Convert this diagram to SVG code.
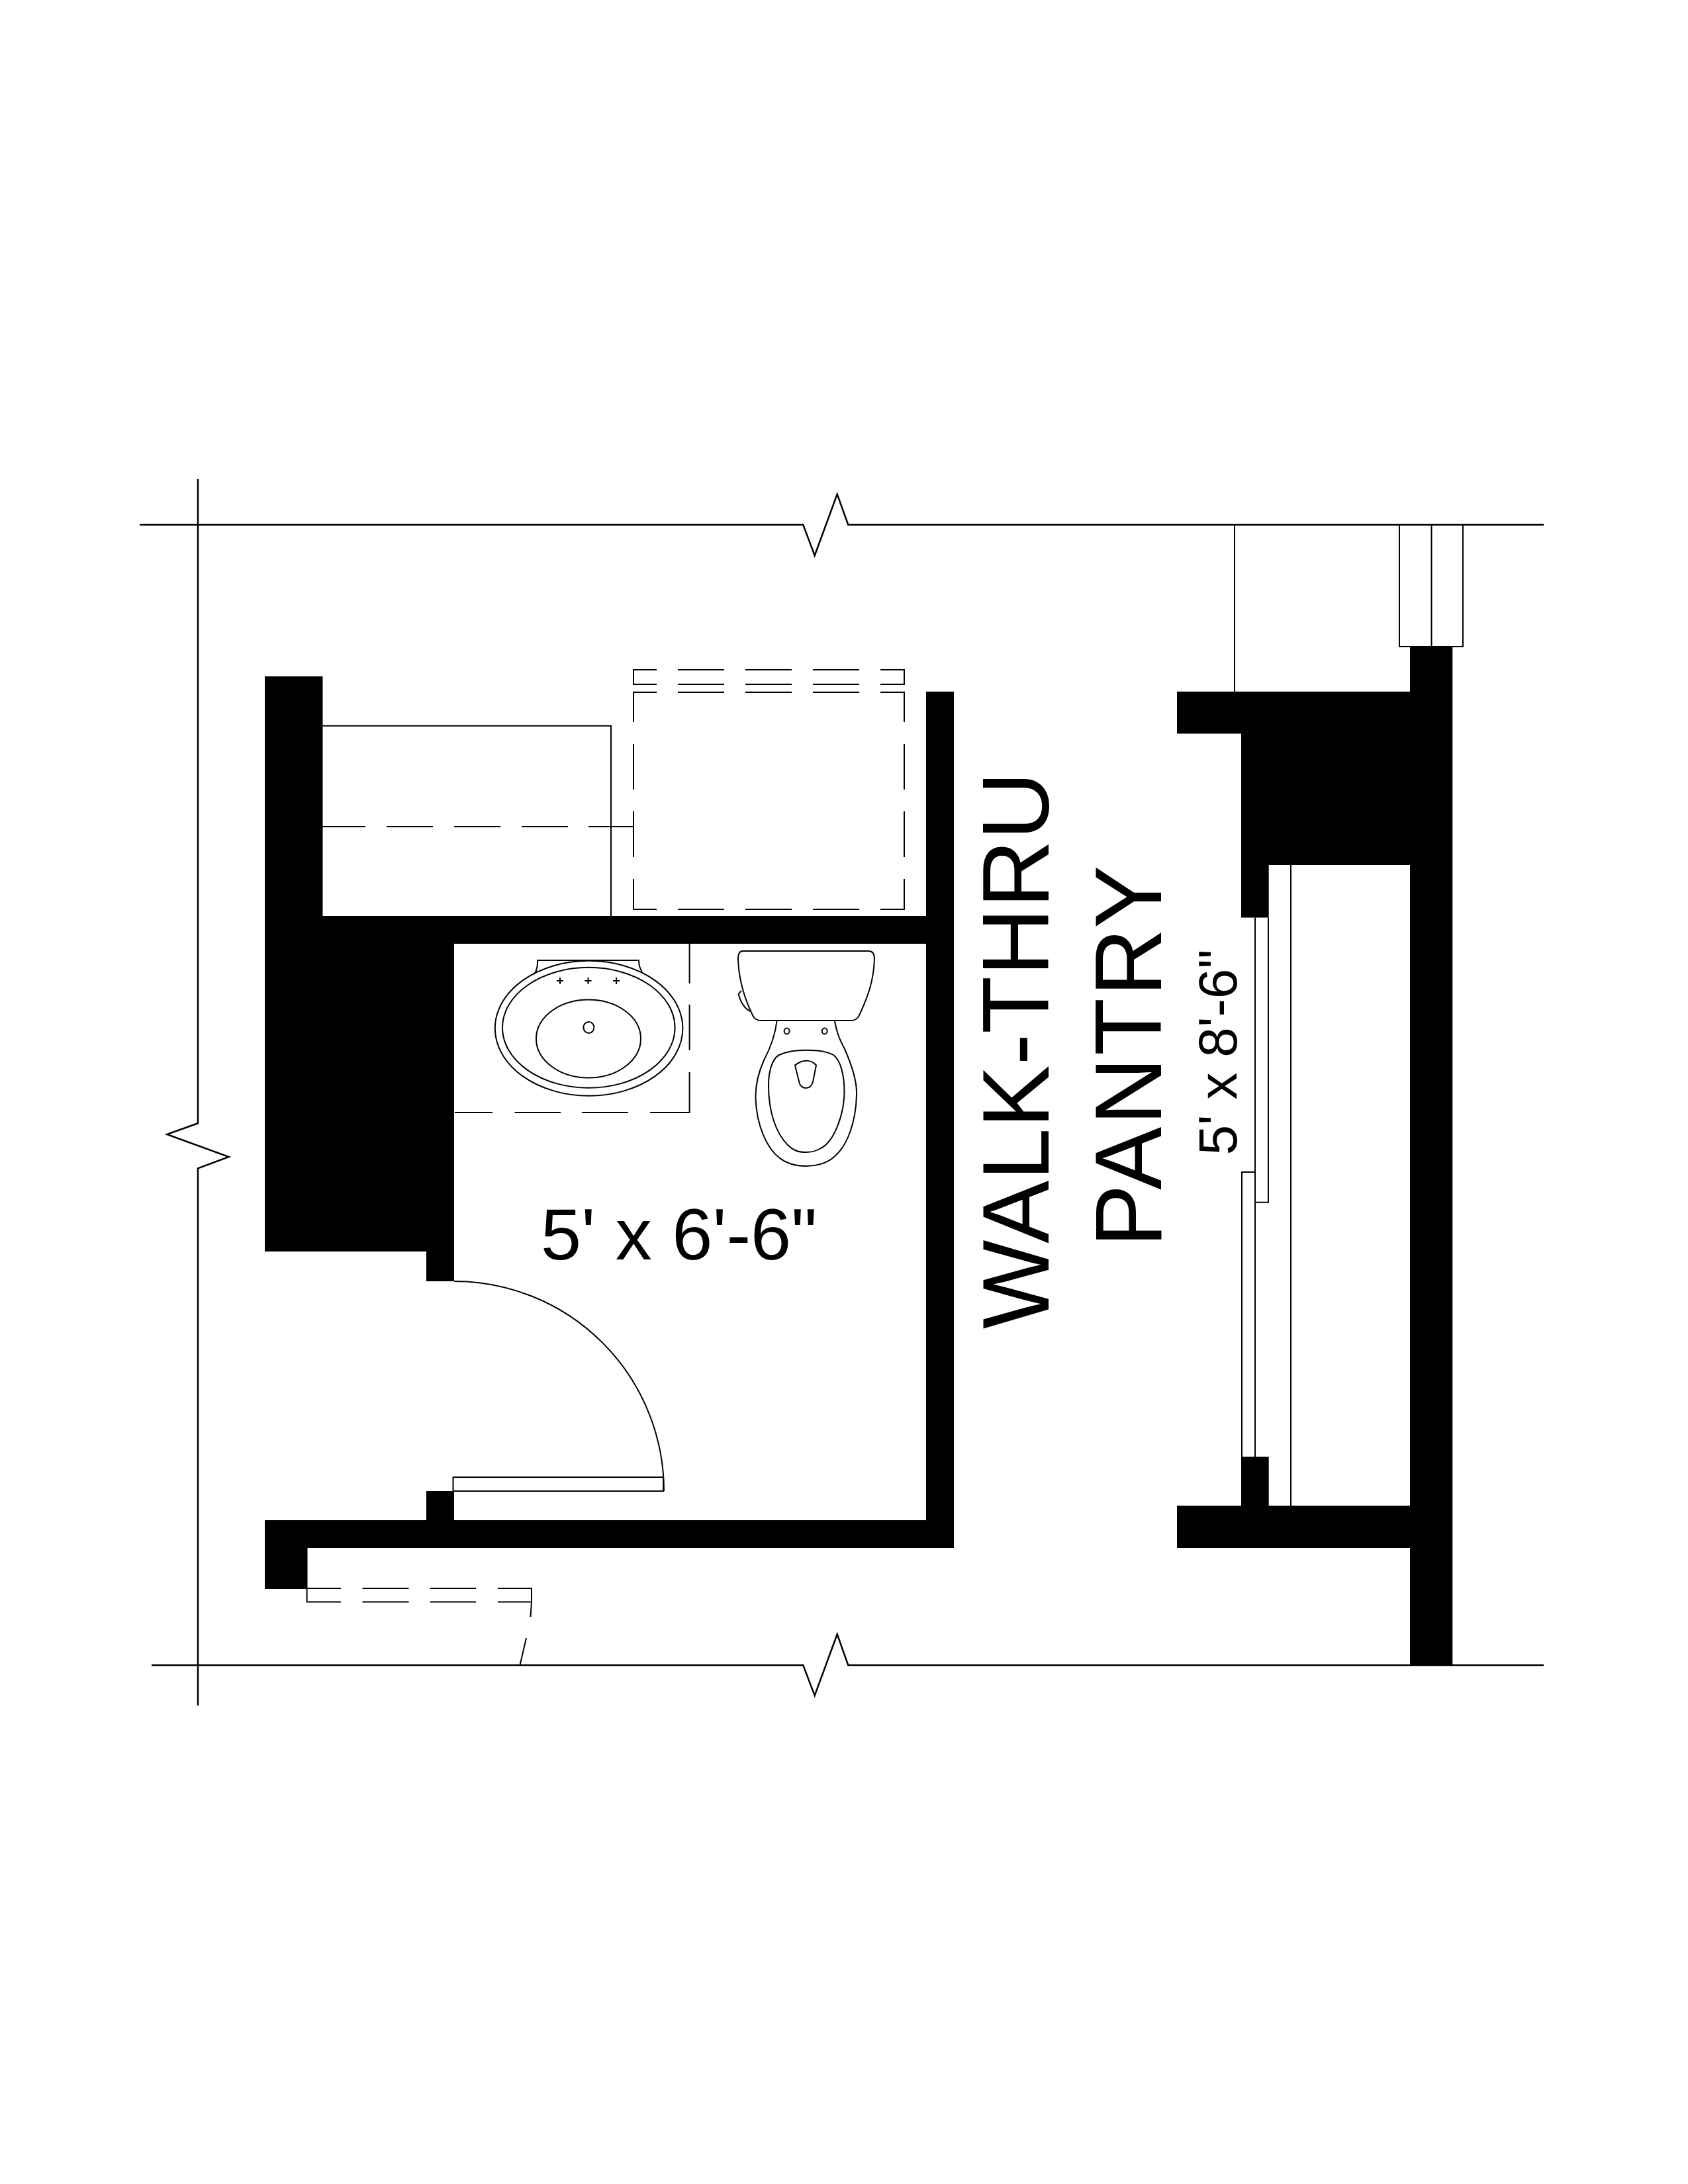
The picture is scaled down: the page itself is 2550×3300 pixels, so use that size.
<svg xmlns="http://www.w3.org/2000/svg" width="2550" height="3300" viewBox="0 0 2550 3300">
<style>
.w{fill:#000;stroke:none}
.l{fill:none;stroke:#000;stroke-width:2.5}
.t{fill:none;stroke:#000;stroke-width:2}
.x{font-family:"Liberation Sans",Arial,sans-serif;fill:#000}
</style>
<rect width="2550" height="3300" fill="#fff"/>
<g id="grid-lines">
<path class="l" d="M211,793H1213.300L1230.700,839.300L1264.700,746.700L1281.300,793H2332"/>
<path class="l" d="M229,2516H1213.300L1230.700,2562L1264.700,2469.300L1281.300,2516H2332"/>
<path class="l" d="M299,724V1697.300L252.300,1714L345.700,1748L299,1765.300V2577"/>
</g>
<g id="walls">
<path class="w" d="M400,1022H487.500V1384H1399V1045H1441V2339H464.500V2401H400V2297H644V2253H686V2297H1399V1426H686V1936H644V1891H400Z"/>
<path class="w" transform="translate(1,0)" d="M1777,1045H2129V977H2193.300V2516H2129V2339H1777V2275H1874V2201H1915.700V2275H2129V1307H1915.700V1386.600H1874V1108.500H1777Z"/>
</g>
<g id="exterior-details" transform="translate(1,0)">
<path class="t" d="M1864,793V1045M2113,793V977H2209V793M2161.500,793V977"/>
</g>
<g id="closet-left">
<path class="t" d="M487.500,1096.700H923V1384"/>
<path class="t" d="M487.500,1249H552M584,1249H654M686,1249H756M788,1249H858M889,1249H957"/>
</g>
<g id="washer-dryer">
<path class="t" d="M992,1012H957V1034H992M1024,1012H1094M1126,1012H1196M1228,1012H1298M1330,1012H1366V1034H1330M1024,1034H1094M1126,1034H1196M1228,1034H1298"/>
<path class="t" d="M957,1091V1046H992M1024,1046H1094M1126,1046H1196M1228,1046H1298M1330,1046H1366V1091M957,1124V1193M1366,1124V1193M957,1226V1295M1366,1226V1295M957,1328V1374H992M1366,1328V1374H1330M1024,1374H1094M1126,1374H1196M1228,1374H1298"/>
</g>
<g id="vanity">
<path class="t" d="M1041.600,1426V1486M1041.600,1518V1587M1041.600,1620V1681H982M949,1681H879M847,1681H777.500M744,1681H687"/>
</g>
<g id="sink">
<path class="t" d="M807,1472C812,1465 812,1458 812,1451H965C965,1458 966,1463 970,1468"/>
<ellipse class="t" cx="889.600" cy="1553.800" rx="141.800" ry="102" fill="#fff"/>
<ellipse class="t" cx="889.300" cy="1552.800" rx="130.300" ry="91"/>
<ellipse class="t" cx="889" cy="1569.500" rx="79" ry="59"/>
<ellipse class="t" cx="889.400" cy="1552.500" rx="8" ry="8.500"/>
<path class="t" d="M841,1482H851M846,1477V1487M883.500,1482H893.500M888.500,1477V1487M926,1482H936M931,1477V1487"/>
</g>
<g id="toilet">
<path class="t" d="M1122,1437H1312Q1321,1437 1321,1449C1320,1480 1312,1505 1297,1536Q1293,1542 1286,1542H1149Q1142,1542 1138,1536C1125,1510 1116,1480 1115,1449Q1115,1437 1122,1437Z"/>
<path class="t" d="M1120,1497L1115.500,1502C1118,1512 1122,1522 1133,1528"/>
<path class="t" d="M1173.500,1543C1171,1565 1163,1585 1154,1602C1146,1620 1141,1640 1141.500,1660C1143,1700 1158,1735 1178,1750C1190,1759 1205,1762 1217.600,1762C1230,1762 1248,1759 1260,1748C1280,1732 1293,1695 1294,1655C1295,1635 1287,1610 1276,1585C1268,1570 1264,1560 1261,1543"/>
<path class="t" d="M1217.600,1586.700C1235,1586.700 1250,1589 1259,1594C1270,1602 1275.500,1625 1275.500,1650C1275,1685 1260,1725 1240,1735C1232,1740 1225,1741 1217.600,1741C1205,1741 1198,1738 1190,1730C1172,1712 1161,1680 1161,1640C1161,1620 1166,1600 1177,1594C1188,1589 1200,1586.700 1217.600,1586.700Z"/>
<path class="t" d="M1201,1609.500C1208,1604 1212,1602.700 1217.600,1602.700C1224,1602.700 1228,1604 1233,1609.500L1228,1635C1226,1641 1222,1644 1217.600,1644C1213,1644 1209,1641 1207.500,1636Z"/>
<ellipse class="t" cx="1188.600" cy="1558" rx="4" ry="4.500"/>
<ellipse class="t" cx="1245.700" cy="1558" rx="4" ry="4.500"/>
</g>
<g id="door">
<path class="t" d="M686,1936A317,317 0 0 1 1003,2253"/>
<path class="t" d="M684.500,2253V2232H1002V2253Z"/>
</g>
<g id="exterior-door">
<path class="t" d="M515,2400H463.600V2420.400H515M547.500,2400H617.600M649.700,2400H719M752,2400H803V2420.400H752M547.500,2420.400H617.600M649.700,2420.400H719"/>
<path class="t" d="M803,2420.400L801.500,2443M795,2475L785.500,2516"/>
</g>
<g id="pantry-window" transform="translate(1,0)">
<path class="t" d="M1949,1307V2275"/>
<path class="t" d="M1895,1386.600V1816.800H1915V1386.600"/>
<path class="t" d="M1895,1771H1875V2201M1895,1816.800V2201"/>
</g>
<g id="labels">
<text class="x" x="817" y="1903" font-size="110">5' x 6'-6"</text>
<text class="x" transform="translate(1584.300,1587) rotate(-90)" font-size="142.500" text-anchor="middle">WALK-THRU</text>
<text class="x" transform="translate(1754.300,1884.600) rotate(-90)" font-size="142.500" textLength="577" lengthAdjust="spacing">PANTRY</text>
<text class="x" transform="translate(1868,1590) rotate(-90)" font-size="82" text-anchor="middle">5' x 8'-6"</text>
</g>
</svg>
